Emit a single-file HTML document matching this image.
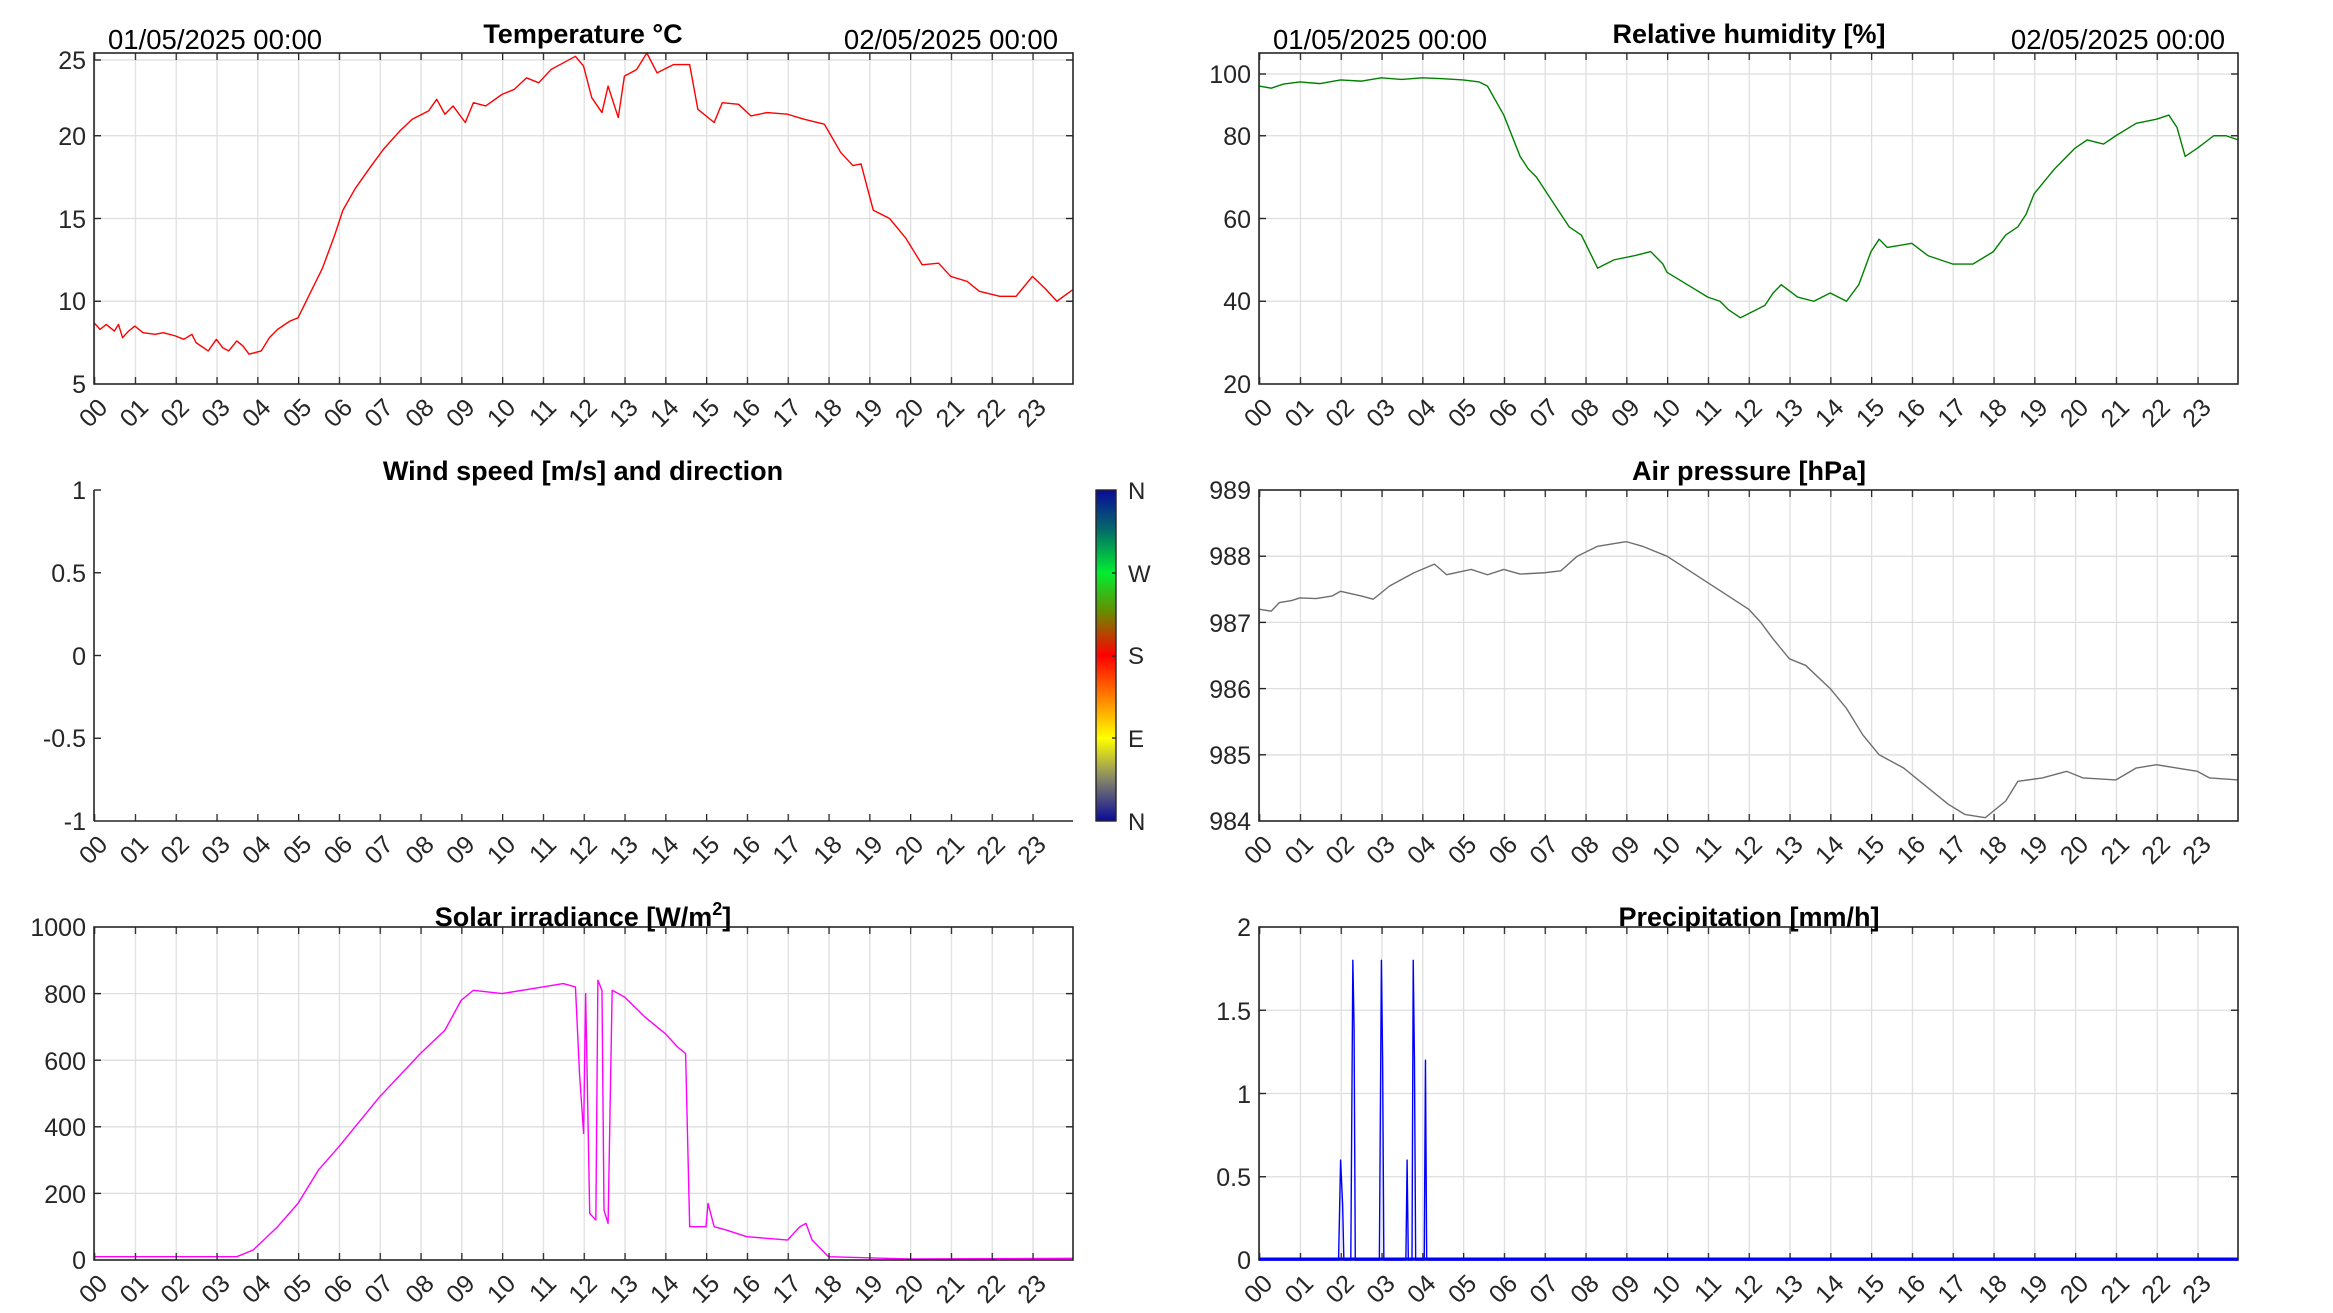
<!DOCTYPE html>
<html><head><meta charset="utf-8"><style>
html,body{margin:0;padding:0;background:#fff}
svg{display:block}
text{font-family:"Liberation Sans",Arial,sans-serif;fill:#262626}
.t{font-size:27px;font-weight:bold;fill:#000;text-anchor:middle}
.d{font-size:27.5px;fill:#000}
.y{font-size:25px;text-anchor:end}
.x{font-size:25px;text-anchor:end}
.ax{fill:none;stroke:#262626;stroke-width:1.6}
.g{stroke:#dedede;stroke-width:1.3}
.dl{fill:none;vector-effect:non-scaling-stroke;stroke-width:1.4;stroke-linejoin:round}
</style></head><body>
<svg width="2333" height="1313" viewBox="0 0 2333 1313" xmlns="http://www.w3.org/2000/svg">
<defs>
<pattern id="gL" patternUnits="userSpaceOnUse" x="94" y="0" width="40.8" height="1313"><line x1="0.6" y1="0" x2="0.6" y2="1313" stroke="#dedede" stroke-width="1.3"/></pattern>
<pattern id="gR" patternUnits="userSpaceOnUse" x="1259" y="0" width="40.8" height="1313"><line x1="0.6" y1="0" x2="0.6" y2="1313" stroke="#dedede" stroke-width="1.3"/></pattern>
<pattern id="tL" patternUnits="userSpaceOnUse" x="94" y="0" width="40.8" height="1313"><line x1="0.6" y1="0" x2="0.6" y2="1313" stroke="#262626" stroke-width="1.4"/></pattern>
<pattern id="tR" patternUnits="userSpaceOnUse" x="1259" y="0" width="40.8" height="1313"><line x1="0.6" y1="0" x2="0.6" y2="1313" stroke="#262626" stroke-width="1.4"/></pattern>
<linearGradient id="cb" x1="0" y1="0" x2="0" y2="1">
<stop offset="0" stop-color="#0a0a9a"/><stop offset="0.12" stop-color="#056a6a"/><stop offset="0.25" stop-color="#00ee30"/><stop offset="0.37" stop-color="#6a8a00"/><stop offset="0.5" stop-color="#ff0000"/><stop offset="0.62" stop-color="#ff7a00"/><stop offset="0.75" stop-color="#ffff00"/><stop offset="0.87" stop-color="#888866"/><stop offset="1" stop-color="#0a0a9a"/>
</linearGradient>
</defs>

<!-- ===== Temperature ===== -->
<rect x="94" y="53" width="979" height="331" fill="url(#gL)"/>
<g class="g"><line x1="94" y1="301.25" x2="1073" y2="301.25"/><line x1="94" y1="218.5" x2="1073" y2="218.5"/><line x1="94" y1="135.75" x2="1073" y2="135.75"/><line x1="94" y1="60" x2="1073" y2="60"/></g>
<polyline class="dl" stroke="#ff0000" transform="translate(94,384) scale(40.8,-16.55) translate(0,-5)" points="0,8.7 0.15,8.3 0.3,8.6 0.5,8.2 0.6,8.6 0.7,7.8 0.85,8.2 1,8.5 1.2,8.1 1.5,8.0 1.7,8.1 2,7.9 2.2,7.7 2.4,8.0 2.5,7.5 2.8,7.0 3,7.7 3.15,7.2 3.3,7.0 3.5,7.6 3.65,7.3 3.8,6.8 4.1,7.0 4.3,7.8 4.5,8.3 4.8,8.8 5,9.0 5.3,10.5 5.6,12 5.9,14 6.1,15.5 6.4,16.8 6.8,18.2 7.1,19.2 7.5,20.3 7.8,21.0 8.2,21.5 8.4,22.2 8.6,21.3 8.8,21.8 9.1,20.8 9.3,22.0 9.6,21.8 10,22.5 10.3,22.8 10.6,23.5 10.9,23.2 11.2,24.0 11.5,24.4 11.8,24.8 12.0,24.2 12.2,22.3 12.45,21.4 12.6,23.0 12.85,21.1 13,23.6 13.3,24.0 13.55,25.0 13.8,23.8 14.2,24.3 14.6,24.3 14.8,21.6 15.2,20.8 15.4,22.0 15.8,21.9 16.1,21.2 16.5,21.4 17.0,21.3 17.4,21.0 17.9,20.7 18.3,19.0 18.6,18.2 18.8,18.3 19.1,15.5 19.5,15.0 19.9,13.8 20.3,12.2 20.7,12.3 21,11.5 21.4,11.2 21.7,10.6 22.2,10.3 22.6,10.3 23,11.5 23.3,10.8 23.6,10.0 23.99,10.7"/>
<rect x="94" y="377" width="979" height="7" fill="url(#tL)"/>
<rect x="94" y="53" width="979" height="7" fill="url(#tL)"/>
<g stroke="#262626" stroke-width="1.4"><line x1="94" y1="301.25" x2="101" y2="301.25"/><line x1="94" y1="218.5" x2="101" y2="218.5"/><line x1="94" y1="135.75" x2="101" y2="135.75"/><line x1="94" y1="60" x2="101" y2="60"/><line x1="1066" y1="301.25" x2="1073" y2="301.25"/><line x1="1066" y1="218.5" x2="1073" y2="218.5"/><line x1="1066" y1="135.75" x2="1073" y2="135.75"/><line x1="1066" y1="60" x2="1073" y2="60"/></g>
<rect class="ax" x="94" y="53" width="979" height="331"/>
<g class="y"><text x="86" y="393">5</text><text x="86" y="310">10</text><text x="86" y="228">15</text><text x="86" y="145">20</text><text x="86" y="69">25</text></g>
<text class="t" x="583" y="43">Temperature °C</text>
<text class="d" x="108" y="49">01/05/2025 00:00</text>
<text class="d" x="1058" y="49" text-anchor="end">02/05/2025 00:00</text>
<g class="x">
<text transform="translate(109,409) rotate(-45)">00</text><text transform="translate(149.8,409) rotate(-45)">01</text><text transform="translate(190.6,409) rotate(-45)">02</text><text transform="translate(231.4,409) rotate(-45)">03</text><text transform="translate(272.2,409) rotate(-45)">04</text><text transform="translate(313,409) rotate(-45)">05</text><text transform="translate(353.8,409) rotate(-45)">06</text><text transform="translate(394.6,409) rotate(-45)">07</text><text transform="translate(435.4,409) rotate(-45)">08</text><text transform="translate(476.2,409) rotate(-45)">09</text><text transform="translate(517,409) rotate(-45)">10</text><text transform="translate(557.8,409) rotate(-45)">11</text><text transform="translate(598.6,409) rotate(-45)">12</text><text transform="translate(639.4,409) rotate(-45)">13</text><text transform="translate(680.2,409) rotate(-45)">14</text><text transform="translate(721,409) rotate(-45)">15</text><text transform="translate(761.8,409) rotate(-45)">16</text><text transform="translate(802.6,409) rotate(-45)">17</text><text transform="translate(843.4,409) rotate(-45)">18</text><text transform="translate(884.2,409) rotate(-45)">19</text><text transform="translate(925,409) rotate(-45)">20</text><text transform="translate(965.8,409) rotate(-45)">21</text><text transform="translate(1006.6,409) rotate(-45)">22</text><text transform="translate(1047.4,409) rotate(-45)">23</text>
</g>

<!-- ===== Relative humidity ===== -->
<rect x="1259" y="53" width="979" height="331" fill="url(#gR)"/>
<g class="g"><line x1="1259" y1="301.25" x2="2238" y2="301.25"/><line x1="1259" y1="218.5" x2="2238" y2="218.5"/><line x1="1259" y1="135.75" x2="2238" y2="135.75"/><line x1="1259" y1="74" x2="2238" y2="74"/></g>
<polyline class="dl" stroke="#008000" transform="translate(1259,384) scale(40.8,-4.1375) translate(0,-20)" points="0,92 0.3,91.5 0.6,92.5 1,93 1.5,92.6 2,93.5 2.5,93.2 3,94 3.5,93.6 4,94 4.5,93.8 5,93.5 5.4,93 5.6,92 6.0,85 6.2,80 6.4,75 6.6,72 6.8,70 7.2,64 7.6,58 7.9,56 8.0,54 8.3,48 8.5,49 8.7,50 9.2,51 9.6,52 9.9,49 10,47 10.5,44 11,41 11.3,40 11.5,38 11.8,36 12,37 12.4,39 12.6,42 12.8,44 13.2,41 13.6,40 14,42 14.4,40 14.7,44 15,52 15.2,55 15.4,53 16,54 16.4,51 17,49 17.5,49 18,52 18.3,56 18.6,58 18.8,61 19,66 19.5,72 20,77 20.3,79 20.7,78 21,80 21.5,83 22,84 22.3,85 22.5,82 22.7,75 23,77 23.4,80 23.7,80 24,79"/>
<rect x="1259" y="377" width="979" height="7" fill="url(#tR)"/>
<rect x="1259" y="53" width="979" height="7" fill="url(#tR)"/>
<g stroke="#262626" stroke-width="1.4"><line x1="1259" y1="301.25" x2="1266" y2="301.25"/><line x1="1259" y1="218.5" x2="1266" y2="218.5"/><line x1="1259" y1="135.75" x2="1266" y2="135.75"/><line x1="1259" y1="74" x2="1266" y2="74"/><line x1="2231" y1="301.25" x2="2238" y2="301.25"/><line x1="2231" y1="218.5" x2="2238" y2="218.5"/><line x1="2231" y1="135.75" x2="2238" y2="135.75"/><line x1="2231" y1="74" x2="2238" y2="74"/></g>
<rect class="ax" x="1259" y="53" width="979" height="331"/>
<g class="y"><text x="1251" y="393">20</text><text x="1251" y="310">40</text><text x="1251" y="228">60</text><text x="1251" y="145">80</text><text x="1251" y="83">100</text></g>
<text class="t" x="1749" y="43">Relative humidity [%]</text>
<text class="d" x="1273" y="49">01/05/2025 00:00</text>
<text class="d" x="2225" y="49" text-anchor="end">02/05/2025 00:00</text>
<g class="x">
<text transform="translate(1274,409) rotate(-45)">00</text><text transform="translate(1314.8,409) rotate(-45)">01</text><text transform="translate(1355.6,409) rotate(-45)">02</text><text transform="translate(1396.4,409) rotate(-45)">03</text><text transform="translate(1437.2,409) rotate(-45)">04</text><text transform="translate(1478,409) rotate(-45)">05</text><text transform="translate(1518.8,409) rotate(-45)">06</text><text transform="translate(1559.6,409) rotate(-45)">07</text><text transform="translate(1600.4,409) rotate(-45)">08</text><text transform="translate(1641.2,409) rotate(-45)">09</text><text transform="translate(1682,409) rotate(-45)">10</text><text transform="translate(1722.8,409) rotate(-45)">11</text><text transform="translate(1763.6,409) rotate(-45)">12</text><text transform="translate(1804.4,409) rotate(-45)">13</text><text transform="translate(1845.2,409) rotate(-45)">14</text><text transform="translate(1886,409) rotate(-45)">15</text><text transform="translate(1926.8,409) rotate(-45)">16</text><text transform="translate(1967.6,409) rotate(-45)">17</text><text transform="translate(2008.4,409) rotate(-45)">18</text><text transform="translate(2049.2,409) rotate(-45)">19</text><text transform="translate(2090,409) rotate(-45)">20</text><text transform="translate(2130.8,409) rotate(-45)">21</text><text transform="translate(2171.6,409) rotate(-45)">22</text><text transform="translate(2212.4,409) rotate(-45)">23</text>
</g>

<!-- ===== Wind ===== -->
<rect x="94" y="814" width="979" height="7" fill="url(#tL)"/>
<line x1="94" y1="821" x2="1073" y2="821" stroke="#262626" stroke-width="1.6"/>
<line x1="94" y1="490" x2="94" y2="821" stroke="#262626" stroke-width="1.6"/>
<g stroke="#262626" stroke-width="1.4"><line x1="94" y1="490" x2="101" y2="490"/><line x1="94" y1="572.75" x2="101" y2="572.75"/><line x1="94" y1="655.5" x2="101" y2="655.5"/><line x1="94" y1="738.25" x2="101" y2="738.25"/></g>
<g class="y"><text x="86" y="830">-1</text><text x="86" y="747">-0.5</text><text x="86" y="665">0</text><text x="86" y="582">0.5</text><text x="86" y="499">1</text></g>
<text class="t" x="583" y="480">Wind speed [m/s] and direction</text>
<g class="x">
<text transform="translate(109,846) rotate(-45)">00</text><text transform="translate(149.8,846) rotate(-45)">01</text><text transform="translate(190.6,846) rotate(-45)">02</text><text transform="translate(231.4,846) rotate(-45)">03</text><text transform="translate(272.2,846) rotate(-45)">04</text><text transform="translate(313,846) rotate(-45)">05</text><text transform="translate(353.8,846) rotate(-45)">06</text><text transform="translate(394.6,846) rotate(-45)">07</text><text transform="translate(435.4,846) rotate(-45)">08</text><text transform="translate(476.2,846) rotate(-45)">09</text><text transform="translate(517,846) rotate(-45)">10</text><text transform="translate(557.8,846) rotate(-45)">11</text><text transform="translate(598.6,846) rotate(-45)">12</text><text transform="translate(639.4,846) rotate(-45)">13</text><text transform="translate(680.2,846) rotate(-45)">14</text><text transform="translate(721,846) rotate(-45)">15</text><text transform="translate(761.8,846) rotate(-45)">16</text><text transform="translate(802.6,846) rotate(-45)">17</text><text transform="translate(843.4,846) rotate(-45)">18</text><text transform="translate(884.2,846) rotate(-45)">19</text><text transform="translate(925,846) rotate(-45)">20</text><text transform="translate(965.8,846) rotate(-45)">21</text><text transform="translate(1006.6,846) rotate(-45)">22</text><text transform="translate(1047.4,846) rotate(-45)">23</text>
</g>
<rect x="1096" y="490" width="20" height="331" fill="url(#cb)" stroke="#262626" stroke-width="1.4"/>
<g stroke="#262626" stroke-width="1.4"><line x1="1112" y1="573" x2="1116" y2="573"/><line x1="1112" y1="656" x2="1116" y2="656"/><line x1="1112" y1="738" x2="1116" y2="738"/></g>
<g style="font-size:24px"><text x="1128" y="499">N</text><text x="1128" y="582">W</text><text x="1128" y="664">S</text><text x="1128" y="747">E</text><text x="1128" y="830">N</text></g>

<!-- ===== Pressure ===== -->
<rect x="1259" y="490" width="979" height="331" fill="url(#gR)"/>
<g class="g"><line x1="1259" y1="754.8" x2="2238" y2="754.8"/><line x1="1259" y1="688.6" x2="2238" y2="688.6"/><line x1="1259" y1="622.4" x2="2238" y2="622.4"/><line x1="1259" y1="556.2" x2="2238" y2="556.2"/></g>
<polyline class="dl" stroke="#6e6e6e" transform="translate(1259,821) scale(40.8,-66.2) translate(0,-984)" points="0,987.2 0.3,987.17 0.5,987.3 0.8,987.33 1,987.37 1.4,987.36 1.8,987.4 2,987.47 2.5,987.4 2.8,987.35 3.2,987.55 3.8,987.75 4.3,987.88 4.6,987.72 5.2,987.8 5.6,987.72 6,987.8 6.4,987.73 7,987.75 7.4,987.78 7.8,988.0 8.3,988.15 8.8,988.2 9,988.22 9.4,988.15 10,988.0 10.5,987.8 11,987.6 11.5,987.4 12,987.2 12.3,987.0 12.6,986.75 13,986.45 13.4,986.35 14,986.0 14.4,985.7 14.8,985.3 15.2,985.0 15.8,984.8 16.4,984.5 16.9,984.25 17.3,984.1 17.8,984.05 18.3,984.3 18.6,984.6 19.2,984.65 19.8,984.75 20.2,984.65 21,984.62 21.5,984.8 22,984.85 22.5,984.8 23,984.75 23.3,984.65 24,984.62"/>
<rect x="1259" y="814" width="979" height="7" fill="url(#tR)"/>
<rect x="1259" y="490" width="979" height="7" fill="url(#tR)"/>
<g stroke="#262626" stroke-width="1.4"><line x1="1259" y1="754.8" x2="1266" y2="754.8"/><line x1="1259" y1="688.6" x2="1266" y2="688.6"/><line x1="1259" y1="622.4" x2="1266" y2="622.4"/><line x1="1259" y1="556.2" x2="1266" y2="556.2"/><line x1="2231" y1="754.8" x2="2238" y2="754.8"/><line x1="2231" y1="688.6" x2="2238" y2="688.6"/><line x1="2231" y1="622.4" x2="2238" y2="622.4"/><line x1="2231" y1="556.2" x2="2238" y2="556.2"/></g>
<rect class="ax" x="1259" y="490" width="979" height="331"/>
<g class="y"><text x="1251" y="830">984</text><text x="1251" y="764">985</text><text x="1251" y="698">986</text><text x="1251" y="632">987</text><text x="1251" y="565">988</text><text x="1251" y="499">989</text></g>
<text class="t" x="1749" y="480">Air pressure [hPa]</text>
<g class="x">
<text transform="translate(1274,846) rotate(-45)">00</text><text transform="translate(1314.8,846) rotate(-45)">01</text><text transform="translate(1355.6,846) rotate(-45)">02</text><text transform="translate(1396.4,846) rotate(-45)">03</text><text transform="translate(1437.2,846) rotate(-45)">04</text><text transform="translate(1478,846) rotate(-45)">05</text><text transform="translate(1518.8,846) rotate(-45)">06</text><text transform="translate(1559.6,846) rotate(-45)">07</text><text transform="translate(1600.4,846) rotate(-45)">08</text><text transform="translate(1641.2,846) rotate(-45)">09</text><text transform="translate(1682,846) rotate(-45)">10</text><text transform="translate(1722.8,846) rotate(-45)">11</text><text transform="translate(1763.6,846) rotate(-45)">12</text><text transform="translate(1804.4,846) rotate(-45)">13</text><text transform="translate(1845.2,846) rotate(-45)">14</text><text transform="translate(1886,846) rotate(-45)">15</text><text transform="translate(1926.8,846) rotate(-45)">16</text><text transform="translate(1967.6,846) rotate(-45)">17</text><text transform="translate(2008.4,846) rotate(-45)">18</text><text transform="translate(2049.2,846) rotate(-45)">19</text><text transform="translate(2090,846) rotate(-45)">20</text><text transform="translate(2130.8,846) rotate(-45)">21</text><text transform="translate(2171.6,846) rotate(-45)">22</text><text transform="translate(2212.4,846) rotate(-45)">23</text>
</g>

<!-- ===== Solar ===== -->
<rect x="94" y="927" width="979" height="333" fill="url(#gL)"/>
<g class="g"><line x1="94" y1="1193.4" x2="1073" y2="1193.4"/><line x1="94" y1="1126.8" x2="1073" y2="1126.8"/><line x1="94" y1="1060.2" x2="1073" y2="1060.2"/><line x1="94" y1="993.6" x2="1073" y2="993.6"/></g>
<polyline class="dl" stroke="#ff00ff" transform="translate(94,1260) scale(40.8,-0.333)" points="0,10 3.5,10 3.9,30 4.5,100 5,170 5.5,270 6,340 7,490 8,620 8.6,690 9,780 9.3,810 10,800 11,820 11.5,830 11.8,820 11.9,560 12,380 12.05,800 12.15,140 12.3,120 12.35,840 12.45,810 12.5,150 12.6,110 12.7,810 13,790 13.5,730 14,680 14.3,640 14.5,620 14.6,100 15,100 15.05,170 15.2,100 15.5,90 16,70 17,60 17.3,100 17.45,110 17.6,60 18,10 20,3 24,5"/>
<rect x="94" y="1253" width="979" height="7" fill="url(#tL)"/>
<rect x="94" y="927" width="979" height="7" fill="url(#tL)"/>
<g stroke="#262626" stroke-width="1.4"><line x1="94" y1="1193.4" x2="101" y2="1193.4"/><line x1="94" y1="1126.8" x2="101" y2="1126.8"/><line x1="94" y1="1060.2" x2="101" y2="1060.2"/><line x1="94" y1="993.6" x2="101" y2="993.6"/><line x1="1066" y1="1193.4" x2="1073" y2="1193.4"/><line x1="1066" y1="1126.8" x2="1073" y2="1126.8"/><line x1="1066" y1="1060.2" x2="1073" y2="1060.2"/><line x1="1066" y1="993.6" x2="1073" y2="993.6"/></g>
<rect class="ax" x="94" y="927" width="979" height="333"/>
<g class="y"><text x="86" y="1269">0</text><text x="86" y="1203">200</text><text x="86" y="1136">400</text><text x="86" y="1070">600</text><text x="86" y="1003">800</text><text x="86" y="936">1000</text></g>
<text class="t" x="583" y="926">Solar irradiance [W/m<tspan font-size="18" dy="-11">2</tspan><tspan dy="11">]</tspan></text>
<g class="x">
<text transform="translate(109,1285) rotate(-45)">00</text><text transform="translate(149.8,1285) rotate(-45)">01</text><text transform="translate(190.6,1285) rotate(-45)">02</text><text transform="translate(231.4,1285) rotate(-45)">03</text><text transform="translate(272.2,1285) rotate(-45)">04</text><text transform="translate(313,1285) rotate(-45)">05</text><text transform="translate(353.8,1285) rotate(-45)">06</text><text transform="translate(394.6,1285) rotate(-45)">07</text><text transform="translate(435.4,1285) rotate(-45)">08</text><text transform="translate(476.2,1285) rotate(-45)">09</text><text transform="translate(517,1285) rotate(-45)">10</text><text transform="translate(557.8,1285) rotate(-45)">11</text><text transform="translate(598.6,1285) rotate(-45)">12</text><text transform="translate(639.4,1285) rotate(-45)">13</text><text transform="translate(680.2,1285) rotate(-45)">14</text><text transform="translate(721,1285) rotate(-45)">15</text><text transform="translate(761.8,1285) rotate(-45)">16</text><text transform="translate(802.6,1285) rotate(-45)">17</text><text transform="translate(843.4,1285) rotate(-45)">18</text><text transform="translate(884.2,1285) rotate(-45)">19</text><text transform="translate(925,1285) rotate(-45)">20</text><text transform="translate(965.8,1285) rotate(-45)">21</text><text transform="translate(1006.6,1285) rotate(-45)">22</text><text transform="translate(1047.4,1285) rotate(-45)">23</text>
</g>

<!-- ===== Precipitation ===== -->
<rect x="1259" y="927" width="979" height="333" fill="url(#gR)"/>
<g class="g"><line x1="1259" y1="1176.75" x2="2238" y2="1176.75"/><line x1="1259" y1="1093.5" x2="2238" y2="1093.5"/><line x1="1259" y1="1010.25" x2="2238" y2="1010.25"/></g>
<rect x="1259" y="1253" width="979" height="7" fill="url(#tR)"/>
<rect x="1259" y="927" width="979" height="7" fill="url(#tR)"/>
<g stroke="#262626" stroke-width="1.4"><line x1="1259" y1="1176.75" x2="1266" y2="1176.75"/><line x1="1259" y1="1093.5" x2="1266" y2="1093.5"/><line x1="1259" y1="1010.25" x2="1266" y2="1010.25"/><line x1="2231" y1="1176.75" x2="2238" y2="1176.75"/><line x1="2231" y1="1093.5" x2="2238" y2="1093.5"/><line x1="2231" y1="1010.25" x2="2238" y2="1010.25"/></g>
<rect class="ax" x="1259" y="927" width="979" height="333"/>
<polyline class="dl" stroke="#0000ff" transform="translate(1259,1260) scale(40.8,-166.5)" points="0,0 1.95,0 2.0,0.6 2.05,0.33 2.08,0 2.25,0 2.3,1.8 2.33,1.4 2.36,0 2.95,0 3.0,1.8 3.03,1.2 3.06,0 3.6,0 3.63,0.6 3.66,0 3.75,0 3.78,1.8 3.81,1.2 3.84,0 4.05,0 4.08,1.2 4.11,0 24,0"/>
<line x1="1259" y1="1259" x2="2238" y2="1259" stroke="#0000ff" stroke-width="3"/>
<g class="y"><text x="1251" y="1269">0</text><text x="1251" y="1186">0.5</text><text x="1251" y="1103">1</text><text x="1251" y="1020">1.5</text><text x="1251" y="936">2</text></g>
<text class="t" x="1749" y="926">Precipitation [mm/h]</text>
<g class="x">
<text transform="translate(1274,1285) rotate(-45)">00</text><text transform="translate(1314.8,1285) rotate(-45)">01</text><text transform="translate(1355.6,1285) rotate(-45)">02</text><text transform="translate(1396.4,1285) rotate(-45)">03</text><text transform="translate(1437.2,1285) rotate(-45)">04</text><text transform="translate(1478,1285) rotate(-45)">05</text><text transform="translate(1518.8,1285) rotate(-45)">06</text><text transform="translate(1559.6,1285) rotate(-45)">07</text><text transform="translate(1600.4,1285) rotate(-45)">08</text><text transform="translate(1641.2,1285) rotate(-45)">09</text><text transform="translate(1682,1285) rotate(-45)">10</text><text transform="translate(1722.8,1285) rotate(-45)">11</text><text transform="translate(1763.6,1285) rotate(-45)">12</text><text transform="translate(1804.4,1285) rotate(-45)">13</text><text transform="translate(1845.2,1285) rotate(-45)">14</text><text transform="translate(1886,1285) rotate(-45)">15</text><text transform="translate(1926.8,1285) rotate(-45)">16</text><text transform="translate(1967.6,1285) rotate(-45)">17</text><text transform="translate(2008.4,1285) rotate(-45)">18</text><text transform="translate(2049.2,1285) rotate(-45)">19</text><text transform="translate(2090,1285) rotate(-45)">20</text><text transform="translate(2130.8,1285) rotate(-45)">21</text><text transform="translate(2171.6,1285) rotate(-45)">22</text><text transform="translate(2212.4,1285) rotate(-45)">23</text>
</g>
</svg>
</body></html>
